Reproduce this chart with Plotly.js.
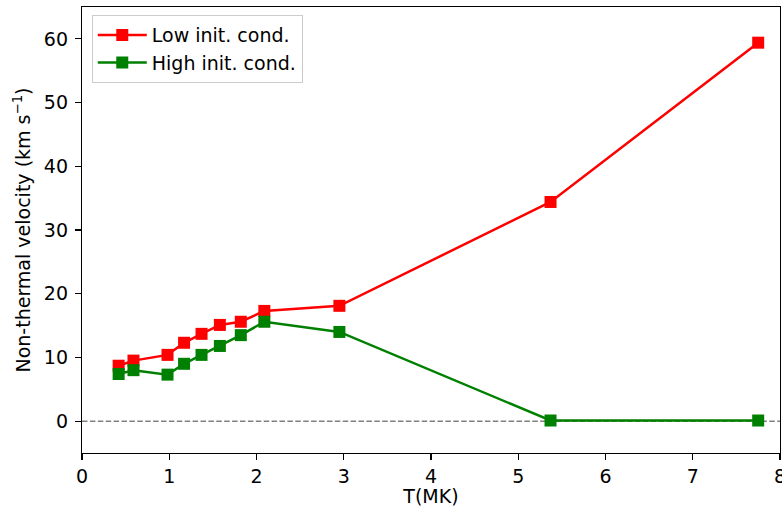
<!DOCTYPE html>
<html>
<head>
<meta charset="utf-8">
<script src="https://cdn.plot.ly/plotly-3.0.1.min.js"></script>
<style>html,body{margin:0;padding:0;background:#fff;}#chart{width:782px;height:507px;}</style>
</head>
<body>
<div id="chart"></div>
<script>
const temperature = [0.42, 0.59, 0.98, 1.17, 1.37, 1.58, 1.82, 2.09, 2.95, 5.37, 7.75];
const lowInit = [8.7, 9.5, 10.4, 12.3, 13.7, 15.1, 15.6, 17.3, 18.1, 34.4, 59.4];
const highInit = [7.4, 8.0, 7.3, 9.0, 10.4, 11.8, 13.5, 15.6, 14.0, 0.1, 0.1];
const seriesNames = ["Low init. cond.", "High init. cond."];
const xTicks = [0, 1, 2, 3, 4, 5, 6, 7, 8];
const yTicks = [0, 10, 20, 30, 40, 50, 60];

const font = {family: "DejaVu Sans, sans-serif", size: 19, color: "#000"};

const traces = [
  {x: temperature, y: lowInit, name: seriesNames[0], mode: "lines+markers",
   line: {color: "#ff0000", width: 2.5}, marker: {symbol: "square", size: 12, color: "#ff0000"}},
  {x: temperature, y: highInit, name: seriesNames[1], mode: "lines+markers",
   line: {color: "#008000", width: 2.5}, marker: {symbol: "square", size: 12, color: "#008000"}}
];

const layout = {
  width: 782, height: 507,
  margin: {l: 82, r: 2, t: 7, b: 54},
  paper_bgcolor: "#fff", plot_bgcolor: "#fff",
  font: font,
  showlegend: true,
  legend: {x: 0.014, y: 0.982, xanchor: "left", yanchor: "top",
    bgcolor: "rgba(255,255,255,0.8)", bordercolor: "#cccccc", borderwidth: 1,
    itemwidth: 49,
    font: {family: font.family, size: 19, color: "#000"}, tracegroupgap: 0},
  xaxis: {range: [0, 8], tickvals: xTicks, ticktext: xTicks.map(String),
    showgrid: false, zeroline: false, showline: true, mirror: true,
    linecolor: "#000", linewidth: 1.2, ticks: "outside", ticklen: 6, tickwidth: 1.2, tickcolor: "#000",
    ticklabeloverflow: "allow",
    tickfont: {size: 19},
    title: {text: "T(MK)", font: {size: 19}, standoff: 7}},
  yaxis: {range: [-5, 65], tickvals: yTicks, ticktext: yTicks.map(String),
    showgrid: false, zeroline: false, showline: true, mirror: true,
    linecolor: "#000", linewidth: 1.2, ticks: "outside", ticklen: 6, tickwidth: 1.2, tickcolor: "#000",
    tickfont: {size: 19}, ticklabelstandoff: 3,
    title: {text: "Non-thermal velocity (km s<sup>−1</sup>)", font: {size: 19}, standoff: 8}},
  shapes: [{type: "line", xref: "paper", yref: "y", x0: 0, x1: 1, y0: 0, y1: 0,
    line: {color: "#808080", width: 1.5, dash: "5.5px,2.4px"}, layer: "below"}]
};

Plotly.newPlot("chart", traces, layout, {displayModeBar: false, staticPlot: true});
</script>
</body>
</html>
